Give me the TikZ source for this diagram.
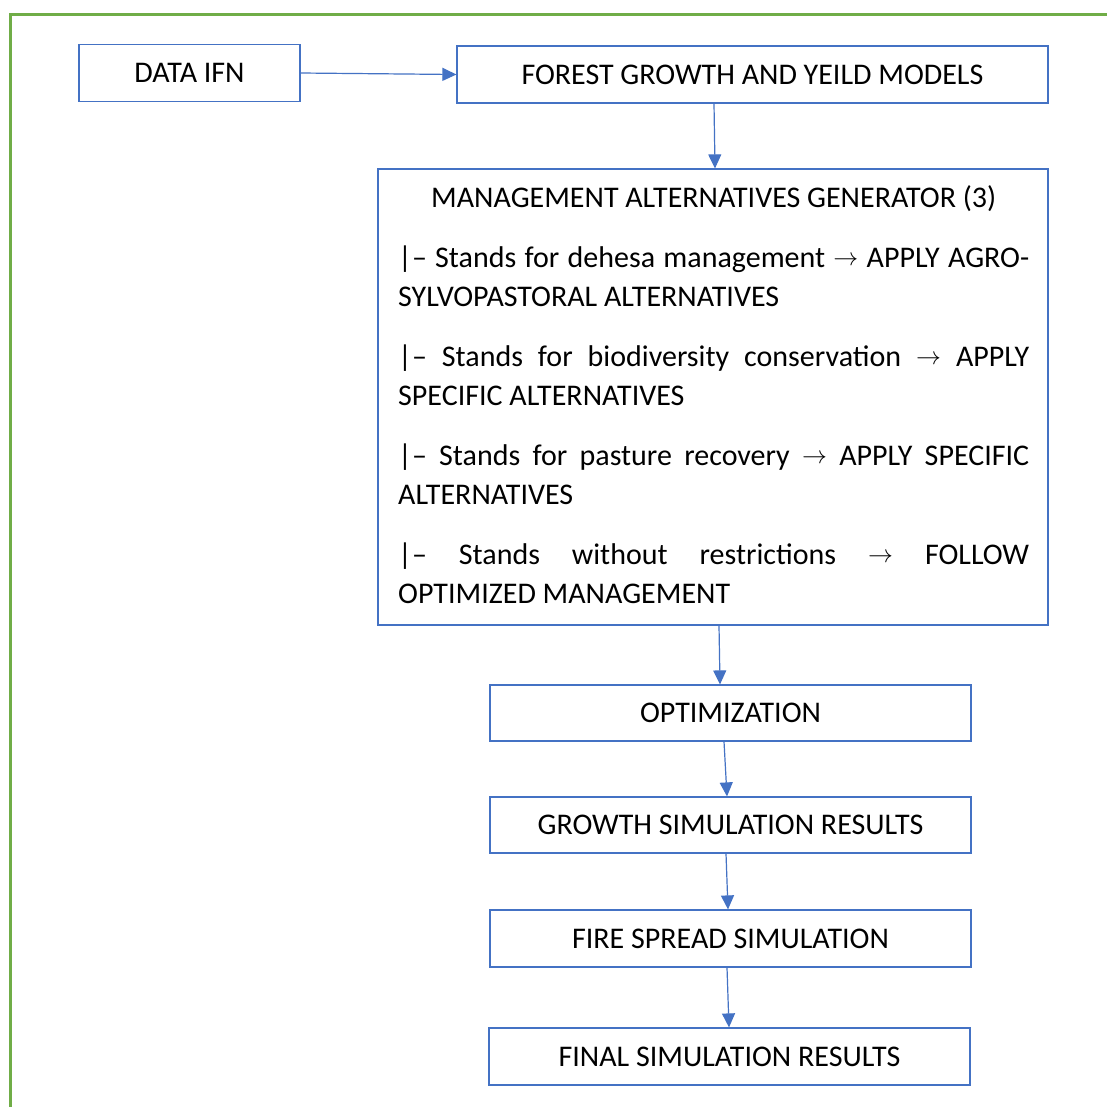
\documentclass[tikz,border=0pt]{standalone}
\usepackage{fontspec}
\setmainfont{Carlito}
\usetikzlibrary{arrows.meta}
\definecolor{bordergreen}{RGB}{112,173,71}
\definecolor{boxblue}{RGB}{68,114,196}
\newcommand{\arr}{{\fontsize{27}{39}\selectfont\raisebox{1.5pt}{$\rightarrow$}}}
\newlength{\mgw}
\setlength{\mgw}{631pt}
\begin{document}
\begin{tikzpicture}[x=1pt,y=-1pt,
  box/.style={draw=boxblue, line width=1.2pt, rectangle, inner sep=0pt,
    font=\fontsize{30}{39}\selectfont},
  conn/.style={draw=boxblue, line width=1.2pt, -{Triangle[length=14pt,width=13pt]}}]
\useasboundingbox (0,0) rectangle (1107,1106);
\fill[white] (0,0) rectangle (1107,1106);
\draw[bordergreen, line width=3pt] (10.5,1115) -- (10.5,14.5) -- (1115,14.5);

\node[box, minimum width=221pt, minimum height=57pt] (ifn) at (189.5,73) {DATA IFN};
\node[box, minimum width=591pt, minimum height=57pt] (forest) at (752.5,74.5) {FOREST GROWTH AND YEILD MODELS};
\node[box, minimum width=670pt, minimum height=456pt] (mgmt) at (713,397) {};
\node[anchor=base west, inner sep=0pt, text width=631pt, font=\fontsize{30}{39}\selectfont] (mgtext) at (398,207) {%
\parindent=0pt\parskip=0pt\spaceskip=0pt\xspaceskip=0pt
\hbox to\mgw{\hfil MANAGEMENT ALTERNATIVES GENERATOR (3)\hfil}
\vskip 21pt
\hbox to\mgw{|– Stands for dehesa management \arr{} APPLY AGRO-}
\hbox{SYLVOPASTORAL ALTERNATIVES}
\vskip 21pt
\hbox to\mgw{|– Stands for biodiversity conservation \arr{} APPLY}
\hbox{SPECIFIC ALTERNATIVES}
\vskip 21pt
\hbox to\mgw{|– Stands for pasture recovery \arr{} APPLY SPECIFIC}
\hbox{ALTERNATIVES}
\vskip 21pt
\hbox to\mgw{|– Stands without restrictions \arr{} FOLLOW}
\hbox{OPTIMIZED MANAGEMENT}};
\node[box, minimum width=481pt, minimum height=56pt] (opt) at (730.5,713) {OPTIMIZATION};
\node[box, minimum width=481pt, minimum height=56pt] (growth) at (730.5,825) {GROWTH SIMULATION RESULTS};
\node[box, minimum width=481pt, minimum height=57pt] (fire) at (730.5,938.5) {FIRE SPREAD SIMULATION};
\node[box, minimum width=481pt, minimum height=57pt] (final) at (729.5,1056.5) {FINAL SIMULATION RESULTS};

\draw[conn] (ifn.east) -- (forest.west);
\draw[conn] (forest.south -| 714,0) -- (mgmt.north -| 715,0);
\draw[conn] (mgmt.south -| 719,0) -- (opt.north -| 720,0);
\draw[conn] (opt.south -| 724,0) -- (growth.north -| 727,0);
\draw[conn] (growth.south -| 726,0) -- (fire.north -| 728,0);
\draw[conn] (fire.south -| 727,0) -- (final.north -| 729,0);
\end{tikzpicture}
\end{document}
